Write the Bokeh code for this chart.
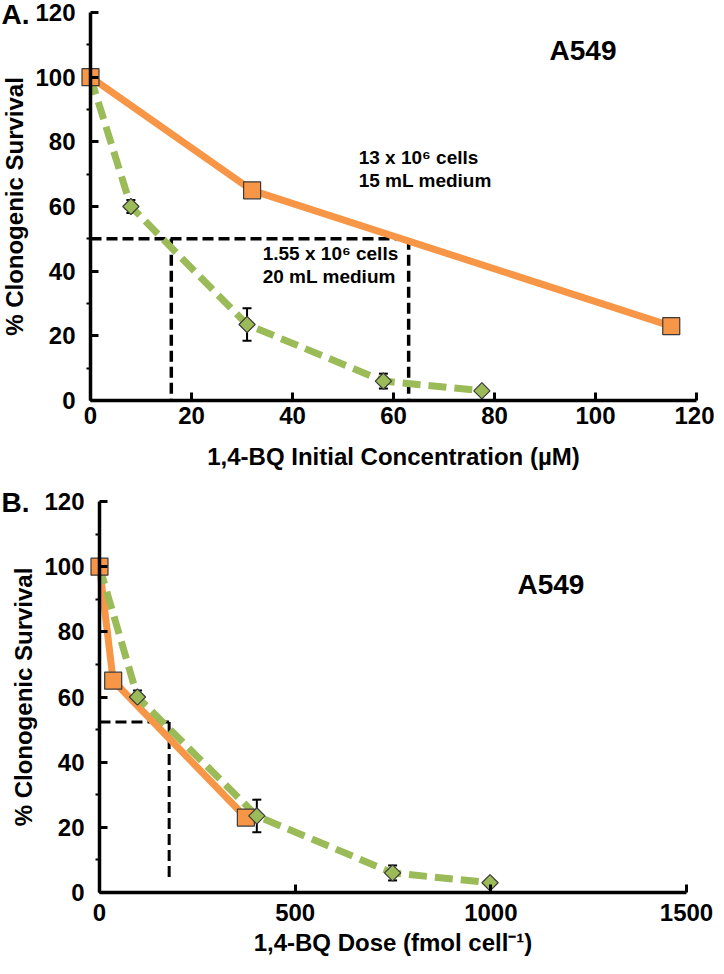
import numpy as np
from bokeh.plotting import figure
from bokeh.models import Range1d, FixedTicker, Whisker, ColumnDataSource, TeeHead
from bokeh.layouts import column
from bokeh.core.properties import value
from bokeh.embed import file_html
from bokeh.resources import INLINE

# ---------------- data ----------------
# Panel A: 1,4-BQ initial concentration (uM)
conc_big = [0, 32, 115]            # 13 x 10^6 cells, 15 mL (orange)
surv_big = [100, 65, 23]
conc_small = [0, 8, 31, 58, 77.5]  # 1.55 x 10^6 cells, 20 mL (green)
surv_small = [100, 60, 23.5, 6, 3]
err_small = [0, 2, 5, 2.3, 0]
# Panel B: dose (fmol / cell)
dose_big = [0, 35, 374]
dose_small = [0, 97, 402, 749, 998]
# IC50 guide lines
ic50_A_surv = 50
ic50_A_conc = [16, 63]
ic50_A_floor = 0
ic50_B_surv = 52.3
ic50_B_dose = 178
ic50_B_floor = 4

xticks_A = [0, 20, 40, 60, 80, 100, 120]
xticks_B = [0, 500, 1000, 1500]
yticks = [0, 20, 40, 60, 80, 100, 120]
yminor = [10, 30, 50, 70, 90, 110]

ORANGE = "#F79646"
GREEN = "#9BBB59"
EDGE = "#3a3a3a"
FONT = "Liberation Sans"


def make_panel(w, h, xr, yr, xticks, xbounds, xlabel, tick_std, lab_std):
    p = figure(width=w, height=h, x_range=Range1d(*xr), y_range=Range1d(*yr),
               output_backend="svg", toolbar_location=None,
               min_border_left=0, min_border_right=0,
               min_border_top=0, min_border_bottom=0)
    p.outline_line_color = None
    p.xgrid.visible = False
    p.ygrid.visible = False
    p.background_fill_color = "white"
    p.border_fill_color = "white"
    p.xaxis.ticker = FixedTicker(ticks=xticks)
    p.yaxis.ticker = FixedTicker(ticks=yticks, minor_ticks=yminor)
    p.xaxis.bounds = xbounds
    p.yaxis.bounds = (0, 120)
    p.yaxis.fixed_location = 0
    p.xaxis.fixed_location = 0
    for ax in (p.xaxis, p.yaxis):
        ax.axis_line_width = 3.5
        ax.axis_line_color = "black"
        ax.major_tick_line_width = 3
        ax.major_tick_line_color = "black"
        ax.major_tick_in = 8
        ax.major_tick_out = 0
        ax.major_label_text_font = FONT
        ax.major_label_text_font_style = "bold"
        ax.major_label_text_font_size = "24px"
        ax.major_label_text_color = "black"
        ax.axis_label_text_font = FONT
        ax.axis_label_text_font_style = "bold"
        ax.axis_label_text_font_size = "24px"
        ax.axis_label_text_color = "black"
    p.xaxis.minor_tick_line_color = None
    p.yaxis.minor_tick_line_color = "black"
    p.yaxis.minor_tick_line_width = 2
    p.yaxis.minor_tick_in = 0
    p.yaxis.minor_tick_out = 4
    p.xaxis.major_label_standoff = tick_std
    p.xaxis.axis_label_standoff = lab_std
    p.yaxis.major_label_standoff = 11
    p.yaxis.axis_label_standoff = 4
    p.xaxis.axis_label = xlabel
    p.yaxis.axis_label = "% Clonogenic Survival"
    return p


def add_series(p, xb, yb, xs, ys, es, isx, isy, floor, sq, dm, dash_w):
    xs_guides = isx if isinstance(isx, list) else [isx]
    p.line([0, max(xs_guides)], [isy, isy], line_color="black", line_width=dash_w,
           line_dash="11 5")
    for xv in xs_guides:
        p.line([xv, xv], [isy, floor], line_color="black", line_width=dash_w,
               line_dash="11 5")
    idx = [i for i, e in enumerate(es) if e > 0]
    src = ColumnDataSource(dict(x=[xs[i] for i in idx],
                                lo=[ys[i] - es[i] for i in idx],
                                hi=[ys[i] + es[i] for i in idx]))
    wk = Whisker(base="x", lower="lo", upper="hi", source=src, dimension="height",
                 line_color="black", line_width=2,
                 upper_head=TeeHead(size=9, line_color="black", line_width=2),
                 lower_head=TeeHead(size=9, line_color="black", line_width=2))
    p.add_layout(wk)
    p.line(xb, yb, line_color=ORANGE, line_width=7, line_join="round")
    p.line(xs, ys, line_color=GREEN, line_width=7, line_dash="18 8")
    p.scatter(xb, yb, marker="square", size=sq, fill_color=ORANGE,
              line_color=EDGE, line_width=1.2)
    p.scatter(xs[1:], ys[1:], marker="square", angle=np.pi / 4, size=dm,
              fill_color=GREEN, line_color=EDGE, line_width=1.2)


def txt(p, x, y, s, size, align="left"):
    p.text(x=[x], y=[y], text=[s], text_font=value(FONT), text_font_style="bold",
           text_font_size=size, text_color="black", text_align=align,
           text_baseline="middle")


W = 714
# ---------------- Panel A ----------------
HA = 478
sxA = 606 / 120.0           # px per unit, y-axis at 90 px
syA = 388 / 120.0           # px per unit, y=0 at 400 px
pA = make_panel(W, HA, (-90 / sxA, (W - 90) / sxA), (-(HA - 400) / syA, 400 / syA),
                xticks_A, (0, 120), "1,4-BQ Initial Concentration (\u00b5M)", 6, 16)
add_series(pA, conc_big, surv_big, conc_small, surv_small, err_small,
           ic50_A_conc, ic50_A_surv, ic50_A_floor, 17, 11.5, 3.5)
txt(pA, 90.9, 108.2, "A549", "28px")
txt(pA, 53.1, 75.2, "13 x 10\u2076 cells", "19px")
txt(pA, 53.1, 68.0, "15 mL medium", "19px")
txt(pA, 34.1, 45.5, "1.55 x 10\u2076 cells", "19px")
txt(pA, 34.1, 38.4, "20 mL medium", "19px")
txt(pA, -17.6, 119.4, "A.", "28px")

# ---------------- Panel B ----------------
HB = 486
sxB = 587 / 1500.0          # y-axis at 99 px
syB = 391 / 120.0           # y=0 at 414 px
pB = make_panel(W, HB, (-99 / sxB, (W - 99) / sxB), (-(HB - 414) / syB, 414 / syB),
                xticks_B, (0, 1500), "1,4-BQ Dose (fmol cell\u207b\u00b9)", 11, 5)
add_series(pB, dose_big, surv_big, dose_small, surv_small, err_small,
           ic50_B_dose, ic50_B_surv, ic50_B_floor, 17, 11.5, 3)
txt(pB, 1068, 94.5, "A549", "28px")
txt(pB, -250.4, 119.7, "B.", "28px")

layout = column(pA, pB, spacing=0)
open("out.html", "w").write(file_html(layout, INLINE))
